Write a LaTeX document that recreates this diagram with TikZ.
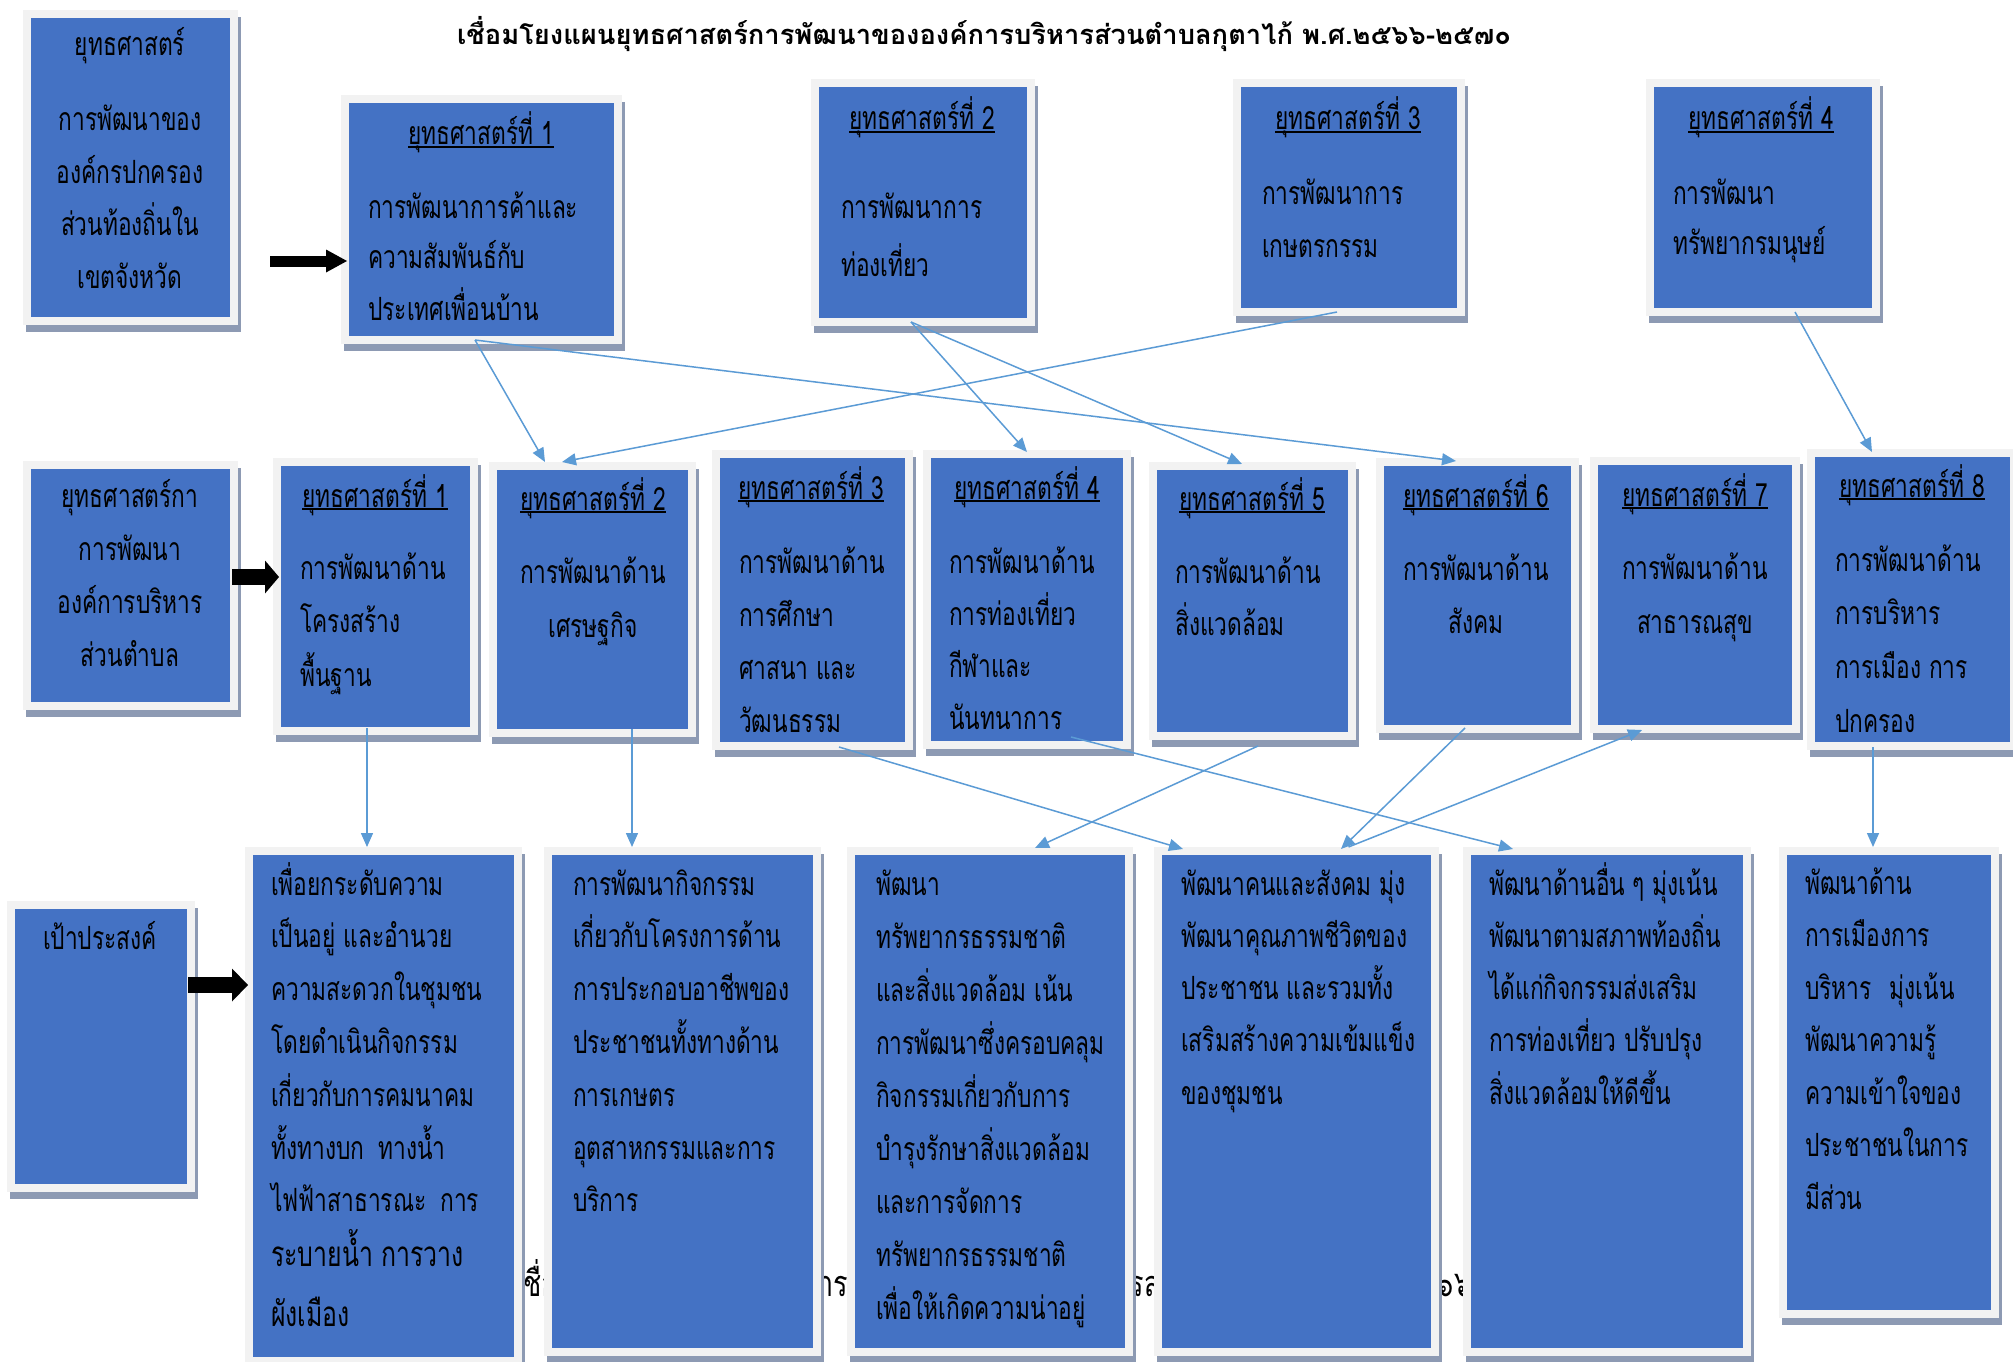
\documentclass[tikz,border=0pt]{standalone}
\usepackage{fontspec}
\newfontfamily\thaifont[Script=Thai,FakeStretch=0.71]{Loma}
\newfontfamily\thaihidden[Script=Thai,FakeStretch=0.75]{Loma}
\newfontfamily\thaititle[Script=Thai]{Loma}
\usetikzlibrary{arrows.meta,calc}
\definecolor{boxblue}{RGB}{68,114,196}
\definecolor{framegray}{RGB}{242,242,242}
\definecolor{shadowgray}{RGB}{141,154,179}
\definecolor{lineblue}{RGB}{91,155,213}
\newcommand\tsize{32}
\newcommand\tbody[1][52.5]{\thaifont\fontsize{\tsize}{#1}\selectfont\lineskiplimit=-100pt\relax}
\newcommand\linesL[1]{\vtop{\halign{##\hfil\cr#1\crcr}}}
\newcommand\linesC[1]{\vtop{\halign{\hfil##\hfil\cr#1\crcr}}}
\newsavebox\hdrbox
\newcommand\hdr[1]{\sbox\hdrbox{#1}\rlap{\rule[-3pt]{\wd\hdrbox}{1.6pt}}\usebox\hdrbox}
\tikzset{
  panel/.style={draw=framegray, fill=boxblue, line width=8pt, inner sep=0pt, outer sep=4pt,
    preaction={draw=shadowgray, fill=shadowgray, line width=8pt, transform canvas={shift={(3pt,-7pt)}}}},
  hd/.style={inner sep=0pt, anchor=base, font=\tbody},
  bodyL/.style={inner sep=0pt, anchor=base west, font={\tbody[#1]}},
  bodyL/.default=52.5,
  bodyC/.style={inner sep=0pt, anchor=base, font={\tbody[#1]}},
  bodyC/.default=52.5,
  conn/.style={draw=lineblue, line width=1.5pt, -{Triangle[length=14pt,width=12pt]}},
  bigarr/.style n args={3}{draw=black, line width=#1, -{Triangle[length=#2,width=#3,line width=0pt]}}
}
\begin{document}
\begin{tikzpicture}[x=1pt,y=-1pt]
\path[use as bounding box, fill=white] (0,0) rectangle (2013,1362);

% titles
\node[anchor=base west, inner sep=0pt, font=\thaihidden\fontsize{36}{40}\selectfont] (title2) at (514,1296)
  {เชื่อมโยงแผนยุทธศาสตร์การพัฒนาขององค์การบริหารส่วนตำบลกุตาไก้ พ.ศ.๒๕๖๖-๒๕๗๐};
\node[anchor=base, inner sep=0pt, font=\thaititle\bfseries\fontsize{27.3}{33}\selectfont] (title) at (984,45)
  {เชื่อมโยงแผนยุทธศาสตร์การพัฒนาขององค์การบริหารส่วนตำบลกุตาไก้ พ.ศ.๒๕๖๖-๒๕๗๐};

% row 1 panels
\node[panel, minimum width=207pt, minimum height=307pt] (A) at (130.5,167.5) {};
\node[panel, minimum width=273pt, minimum height=241pt] (B) at (481.5,219.5) {};
\node[panel, minimum width=216pt, minimum height=239pt] (C) at (923,202.5) {};
\node[panel, minimum width=224pt, minimum height=229pt] (D) at (1349,197.5) {};
\node[panel, minimum width=226pt, minimum height=229pt] (E) at (1763,197.5) {};
% row 2 panels
\node[panel, minimum width=207pt, minimum height=241pt] (F) at (130.5,585.5) {};
\node[panel, minimum width=197pt, minimum height=269pt] (G) at (375.5,596.5) {};
\node[panel, minimum width=199pt, minimum height=267pt] (H) at (592.5,599.5) {};
\node[panel, minimum width=193pt, minimum height=292pt] (I) at (812.5,600) {};
\node[panel, minimum width=200pt, minimum height=291pt] (J) at (1027,599.5) {};
\node[panel, minimum width=199pt, minimum height=270pt] (K) at (1252.5,601) {};
\node[panel, minimum width=195pt, minimum height=267pt] (L) at (1477.5,595.5) {};
\node[panel, minimum width=202pt, minimum height=268pt] (M) at (1695,595) {};
\node[panel, minimum width=203pt, minimum height=293pt] (N) at (1912.5,599.5) {};
% row 3 panels
\node[panel, minimum width=180pt, minimum height=283pt] (O) at (101,1046.5) {};
\node[panel, minimum width=269pt, minimum height=510pt] (P) at (383.5,1106) {};
\node[panel, minimum width=269pt, minimum height=501pt] (Q) at (682.5,1101.5) {};
\node[panel, minimum width=278pt, minimum height=501pt] (R) at (990,1101.5) {};
\node[panel, minimum width=277pt, minimum height=501pt] (S) at (1296.5,1101.5) {};
\node[panel, minimum width=280pt, minimum height=501pt] (T) at (1607,1101.5) {};
\node[panel, minimum width=212pt, minimum height=463pt] (U) at (1889,1082.5) {};

% row 1 texts
\node[hd] (Ah) at (130,56) {ยุทธศาสตร์};
\node[bodyC] (At) at (130,131) {\linesC{การพัฒนาของ\cr องค์กรปกครอง\cr ส่วนท้องถิ่นใน\cr เขตจังหวัด}};
\node[hd] (Bh) at (481,145) {\hdr{ยุทธศาสตร์ที่ 1}};
\node[bodyL=51] (Bt) at (368,218) {\linesL{การพัฒนาการค้าและ\cr ความสัมพันธ์กับ\cr ประเทศเพื่อนบ้าน}};
\node[hd] (Ch) at (922,130) {\hdr{ยุทธศาสตร์ที่ 2}};
\node[bodyL=58] (Ct) at (841,218) {\linesL{การพัฒนาการ\cr ท่องเที่ยว}};
\node[hd] (Dh) at (1348,130) {\hdr{ยุทธศาสตร์ที่ 3}};
\node[bodyL=53] (Dt) at (1262,204) {\linesL{การพัฒนาการ\cr เกษตรกรรม}};
\node[hd] (Eh) at (1761,130) {\hdr{ยุทธศาสตร์ที่ 4}};
\node[bodyL=51] (Et) at (1673,204) {\linesL{การพัฒนา\cr ทรัพยากรมนุษย์}};

% row 2 texts
\node[bodyC=53] (Ft) at (130,507) {\linesC{ยุทธศาสตร์กา\cr การพัฒนา\cr องค์การบริหาร\cr ส่วนตำบล}};
\node[hd] (Gh) at (375,507) {\hdr{ยุทธศาสตร์ที่ 1}};
\node[bodyL=53.5] (Gt) at (300,579) {\linesL{การพัฒนาด้าน\cr โครงสร้าง\cr พื้นฐาน}};
\node[hd] (Hh) at (593,510) {\hdr{ยุทธศาสตร์ที่ 2}};
\node[bodyC=54] (Ht) at (593,583) {\linesC{การพัฒนาด้าน\cr เศรษฐกิจ}};
\node[hd] (Ih) at (811,499) {\hdr{ยุทธศาสตร์ที่ 3}};
\node[bodyL=53] (It) at (739,573) {\linesL{การพัฒนาด้าน\cr การศึกษา\cr ศาสนา และ\cr วัฒนธรรม}};
\node[hd] (Jh) at (1027,499) {\hdr{ยุทธศาสตร์ที่ 4}};
\node[bodyL=52.3] (Jt) at (949,573) {\linesL{การพัฒนาด้าน\cr การท่องเที่ยว\cr กีฬาและ\cr นันทนาการ}};
\node[hd] (Kh) at (1252,510) {\hdr{ยุทธศาสตร์ที่ 5}};
\node[bodyL=52] (Kt) at (1175,583) {\linesL{การพัฒนาด้าน\cr สิ่งแวดล้อม}};
\node[hd] (Lh) at (1476,507) {\hdr{ยุทธศาสตร์ที่ 6}};
\node[bodyC=53] (Lt) at (1476,580) {\linesC{การพัฒนาด้าน\cr สังคม}};
\node[hd] (Mh) at (1695,506) {\hdr{ยุทธศาสตร์ที่ 7}};
\node[bodyC=54] (Mt) at (1695,579) {\linesC{การพัฒนาด้าน\cr สาธารณสุข}};
\node[hd] (Nh) at (1912,497) {\hdr{ยุทธศาสตร์ที่ 8}};
\node[bodyL=53.7] (Nt) at (1835,571) {\linesL{การพัฒนาด้าน\cr การบริหาร\cr การเมือง การ\cr ปกครอง}};

% row 3 texts
\node[bodyC] (Ot) at (100,949) {\linesC{เป้าประสงค์}};
\node[bodyL=52.8] (Pt) at (271,895) {\linesL{เพื่อยกระดับความ\cr เป็นอยู่ และอำนวย\cr ความสะดวกในชุมชน\cr โดยดำเนินกิจกรรม\cr เกี่ยวกับการคมนาคม\cr ทั้งทางบก\hspace{14pt}ทางน้ำ\cr ไฟฟ้าสาธารณะ\hspace{14pt}การ\cr \noalign{\vskip 2pt}{\fontsize{35}{40}\selectfont ระบายน้ำ การวาง}\cr \noalign{\vskip 7pt}{\fontsize{35}{40}\selectfont ผังเมือง}}};
\node[bodyL=52.8] (Qt) at (573,895) {\linesL{การพัฒนากิจกรรม\cr เกี่ยวกับโครงการด้าน\cr การประกอบอาชีพของ\cr ประชาชนทั้งทางด้าน\cr การเกษตร\cr อุตสาหกรรมและการ\cr บริการ}};
\node[bodyL=53] (Rt) at (876,895) {\linesL{พัฒนา\cr ทรัพยากรธรรมชาติ\cr และสิ่งแวดล้อม เน้น\cr การพัฒนาซึ่งครอบคลุม\cr กิจกรรมเกี่ยวกับการ\cr บำรุงรักษาสิ่งแวดล้อม\cr และการจัดการ\cr ทรัพยากรธรรมชาติ\cr เพื่อให้เกิดความน่าอยู่}};
\node[bodyL=52.3] (St) at (1181,895) {\linesL{พัฒนาคนและสังคม มุ่ง\cr พัฒนาคุณภาพชีวิตของ\cr ประชาชน และรวมทั้ง\cr เสริมสร้างความเข้มแข็ง\cr ของชุมชน}};
\node[bodyL=52.3] (Tt) at (1489,895) {\linesL{พัฒนาด้านอื่น ๆ มุ่งเน้น\cr พัฒนาตามสภาพท้องถิ่น\cr ได้แก่กิจกรรมส่งเสริม\cr การท่องเที่ยว ปรับปรุง\cr สิ่งแวดล้อมให้ดีขึ้น}};
\node[bodyL=52.5] (Ut) at (1805,894) {\linesL{พัฒนาด้าน\cr การเมืองการ\cr บริหาร\hspace{18pt}มุ่งเน้น\cr พัฒนาความรู้\cr ความเข้าใจของ\cr ประชาชนในการ\cr มีส่วน}};

% thick black arrows
\coordinate (abE) at ([xshift=6pt,yshift=-41.5pt]B.west);
\draw[bigarr={11pt}{21pt}{23pt}, shorten <=32pt] (A.east |- abE) -- (abE);
\coordinate (fgE) at ([xshift=6pt,yshift=19.5pt]G.west);
\draw[bigarr={16pt}{14pt}{33pt}, shorten <=-6pt] (F.east |- fgE) -- (fgE);
\coordinate (opE) at ([xshift=3pt,yshift=121pt]P.west);
\draw[bigarr={16pt}{16pt}{33pt}, shorten <=-7pt] (O.east |- opE) -- (opE);

% thin connectors
\draw[conn] ([xshift=-6.5pt,yshift=4pt]B.south) -- ([xshift=-47.5pt]H.north);
\draw[conn] ([xshift=-6.5pt,yshift=4pt]B.south) -- ([xshift=-21.5pt,yshift=-3pt]L.north);
\draw[conn] ([xshift=-12pt,yshift=4pt]D.south) -- ([xshift=-30.5pt]H.north);
\draw[conn] ([xshift=-12pt,yshift=4pt]C.south) -- ([yshift=-2pt]J.north);
\draw[conn] ([xshift=-12pt,yshift=4pt]C.south) -- ([xshift=-10.5pt,yshift=-2pt]K.north);
\draw[conn] ([xshift=32pt,yshift=4pt]E.south) -- ([xshift=-40.5pt,yshift=-3pt]N.north);
\coordinate (g7) at ([xshift=-8.5pt,yshift=7pt]G.south);
\draw[conn] (g7) -- (g7 |- P.north);
\coordinate (h8) at ([xshift=39.5pt,yshift=8pt]H.south);
\draw[conn] (h8) -- (h8 |- Q.north);
\draw[conn] ([xshift=26.5pt,yshift=3pt]I.south) -- ([xshift=-113.5pt,yshift=-2pt]S.north);
\draw[conn] ([xshift=44pt,yshift=12pt]J.south) -- ([xshift=-94pt,yshift=-2pt]T.north);
\draw[conn] ([xshift=5.5pt,yshift=-6pt]K.south) -- ([xshift=45pt,yshift=-1pt]R.north);
\draw[conn] ([xshift=-12.5pt,yshift=5pt]L.south) -- ([xshift=44.5pt,yshift=-2pt]S.north);
\draw[conn] ([xshift=52pt]S.north) -- ([xshift=-53pt,yshift=3pt]M.south);
\coordinate (n14) at ([xshift=-39.5pt,yshift=3pt]N.south);
\draw[conn] (n14) -- (n14 |- U.north);
\end{tikzpicture}
\end{document}
